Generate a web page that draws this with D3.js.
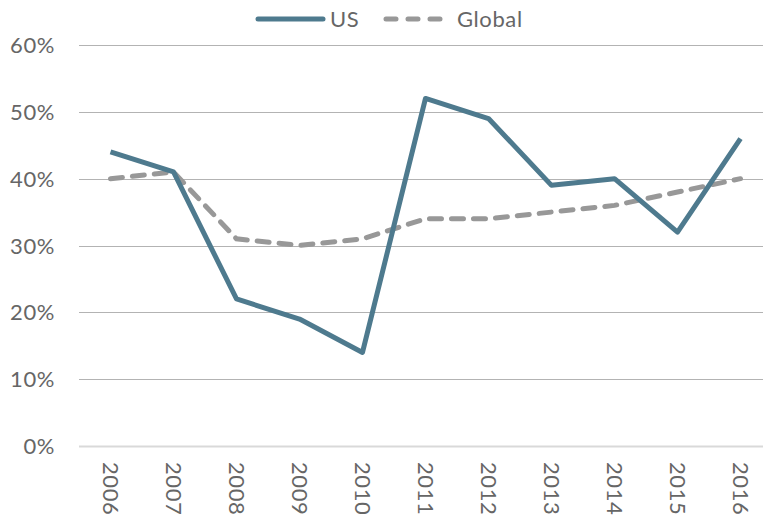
<!DOCTYPE html>
<html>
<head>
<meta charset="utf-8">
<script src="https://cdn.jsdelivr.net/npm/d3@7"></script>
<style>
  body { margin: 0; background: #fff; }
  text { font-family: Lato, "Open Sans", sans-serif; font-weight: 400; letter-spacing: 0.6px; }
</style>
</head>
<body>
<svg id="chart" width="763" height="523"></svg>
<script>
// Chart data
const years = ["2006", "2007", "2008", "2009", "2010", "2011", "2012", "2013", "2014", "2015", "2016"];
const usValues = [44, 41, 22, 19, 14, 52, 49, 39, 40, 32, 46];
const globalValues = [40, 41, 31, 30, 31, 34, 34, 35, 36, 38, 40];
const yTicks = [0, 10, 20, 30, 40, 50, 60];

const svg = d3.select("#chart");
const plotLeft = 79, plotRight = 772, plotTop = 45, plotBottom = 446;

const x = d3.scalePoint().domain(years).range([plotLeft, plotRight]).padding(0.5);
const y = d3.scaleLinear().domain([0, 60]).range([plotBottom, plotTop]);

// Gridlines
svg.append("g")
  .selectAll("line")
  .data(yTicks)
  .join("line")
  .attr("x1", plotLeft)
  .attr("x2", 763)
  .attr("y1", d => Math.round(y(d)) + 0.5)
  .attr("y2", d => Math.round(y(d)) + 0.5)
  .attr("stroke", d => d === 0 ? "#d9d9d9" : "#b3b3b3")
  .attr("stroke-width", d => d === 0 ? 2 : 1);

// Y labels
svg.append("g")
  .selectAll("text")
  .data(yTicks)
  .join("text")
  .attr("x", 55)
  .attr("y", d => y(d) + 8)
  .attr("text-anchor", "end")
  .style("font-size", "22px")
  .style("fill", "#666")
  .text(d => d + "%");

// X labels, rotated
svg.append("g")
  .selectAll("text")
  .data(years)
  .join("text")
  .attr("transform", d => `translate(${x(d) - 8}, 462) rotate(90)`)
  .attr("text-anchor", "start")
  .style("font-size", "22px")
  .style("fill", "#666")
  .text(d => d);

const line = d3.line()
  .x((d, i) => x(years[i]))
  .y(d => y(d));

// Global (dashed)
svg.append("path")
  .datum(globalValues)
  .attr("d", line)
  .attr("fill", "none")
  .attr("stroke", "#989898")
  .attr("stroke-width", 5)
  .attr("stroke-dasharray", "12,10")
  .attr("stroke-linecap", "round");

// US
svg.append("path")
  .datum(usValues)
  .attr("d", line)
  .attr("fill", "none")
  .attr("stroke", "#4e7a8e")
  .attr("stroke-width", 5)
  .attr("stroke-linejoin", "round");

// Legend
const legend = svg.append("g");
legend.append("line")
  .attr("x1", 258).attr("x2", 323)
  .attr("y1", 19).attr("y2", 19)
  .attr("stroke", "#4e7a8e")
  .attr("stroke-width", 5)
  .attr("stroke-linecap", "round");
legend.append("text")
  .attr("x", 330).attr("y", 27)
  .style("font-size", "22px")
  .style("fill", "#666")
  .text("US");
legend.append("line")
  .attr("x1", 386).attr("x2", 446)
  .attr("y1", 19).attr("y2", 19)
  .attr("stroke", "#989898")
  .attr("stroke-width", 5)
  .attr("stroke-dasharray", "10,12")
  .attr("stroke-linecap", "round");
legend.append("text")
  .attr("x", 457).attr("y", 27)
  .style("font-size", "22px")
  .style("fill", "#666")
  .text("Global");
</script>
</body>
</html>
